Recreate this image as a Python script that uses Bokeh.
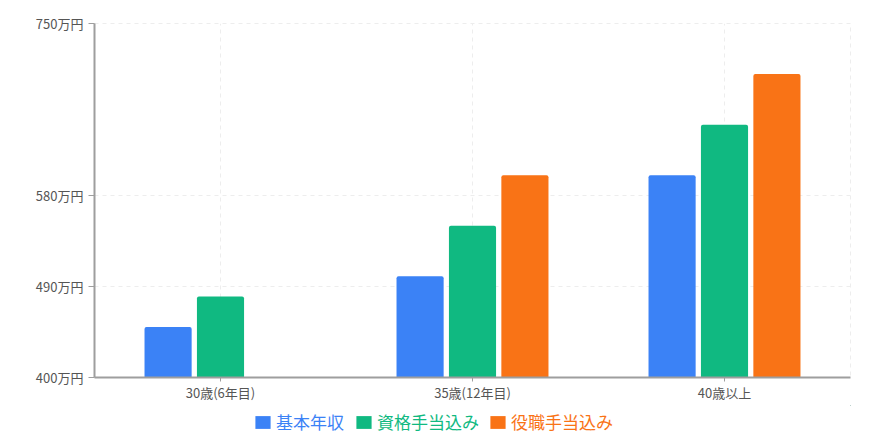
from bokeh.plotting import figure
from bokeh.layouts import column
from bokeh.models import (ColumnDataSource, FactorRange, Range1d, FixedTicker,
                          PrintfTickFormatter, Legend, LegendItem)
from bokeh.transform import dodge
from bokeh.embed import file_html
from bokeh.resources import INLINE
import numpy as np

categories = ["30歳(6年目)", "35歳(12年目)", "40歳以上"]
series_names = ["基本年収", "資格手当込み", "役職手当込み"]
base_pay = [450, 500, 600]
with_license = [480, 550, 650]
with_position = [np.nan, 600, 700]
y_ticks = [400, 490, 580, 750]
colors = ["#3b82f6", "#10b981", "#f97316"]

FONT = "Noto Sans CJK JP"

src = ColumnDataSource(dict(cat=categories, a=base_pay, b=with_license, c=with_position))

p = figure(x_range=FactorRange(*categories), y_range=Range1d(400, 750),
           width=892, height=405, output_backend="svg", toolbar_location=None,
           min_border_left=94, min_border_right=42, min_border_top=23, min_border_bottom=28)
p.x_range.range_padding = 0

offs = [-0.208, 0.0, 0.208]
for key, off, col in zip(["a", "b", "c"], offs, colors):
    p.vbar(x=dodge("cat", off, range=p.x_range), top=key, width=0.187, source=src,
           fill_color=col, line_color=None, border_radius=(2, 2, 0, 0))

# axes
p.yaxis.ticker = FixedTicker(ticks=y_ticks)
p.yaxis.formatter = PrintfTickFormatter(format="%d万円")
for ax in (p.xaxis, p.yaxis):
    ax.axis_line_color = "#9e9e9e"
    ax.axis_line_width = 2
    ax.major_tick_line_color = "#9e9e9e"
    ax.major_tick_line_width = 1
    ax.major_tick_in = 0
    ax.minor_tick_line_color = None
    ax.major_label_text_font = FONT
    ax.major_label_text_font_size = "13px"
    ax.major_label_text_color = "#555555"
p.xaxis.major_tick_out = 4
p.xaxis.major_label_standoff = 1
p.yaxis.major_tick_out = 6
p.yaxis.major_label_standoff = 5

# grid
p.ygrid.grid_line_color = "#ededed"
p.ygrid.grid_line_dash = "4 4"
p.xgrid.grid_line_color = "#ededed"
p.xgrid.grid_line_dash = "4 4"
p.outline_line_color = "#ededed"
p.outline_line_dash = "4 4"

# legend strip below the chart (one legend per series for coloured labels)
leg = figure(width=892, height=37, output_backend="svg", toolbar_location=None,
             x_range=Range1d(0, 1), y_range=Range1d(0, 1),
             min_border=0, outline_line_color=None)
leg.axis.visible = False
leg.grid.visible = False
leg_x = [159, 260, 394]
for name, key, col, lx in zip(series_names, ["a", "b", "c"], colors, leg_x):
    # degenerate helper bars (zero size, outside this strip's range) only supply the swatch
    r = leg.vbar(x=key, top=key, bottom=key, width=0, source=src,
                 fill_color=col, line_color=None)
    lg = Legend(items=[LegendItem(label=name, renderers=[r])], location=(lx, 8),
                orientation="horizontal", padding=0, margin=0, spacing=0,
                border_line_color=None, background_fill_alpha=0,
                glyph_width=19, glyph_height=16, label_standoff=4,
                label_text_font=FONT, label_text_font_size="17px",
                label_text_color=col, label_height=20)
    leg.add_layout(lg, "center")

layout = column(p, leg, spacing=0)
open("out.html", "w").write(file_html(layout, INLINE))
